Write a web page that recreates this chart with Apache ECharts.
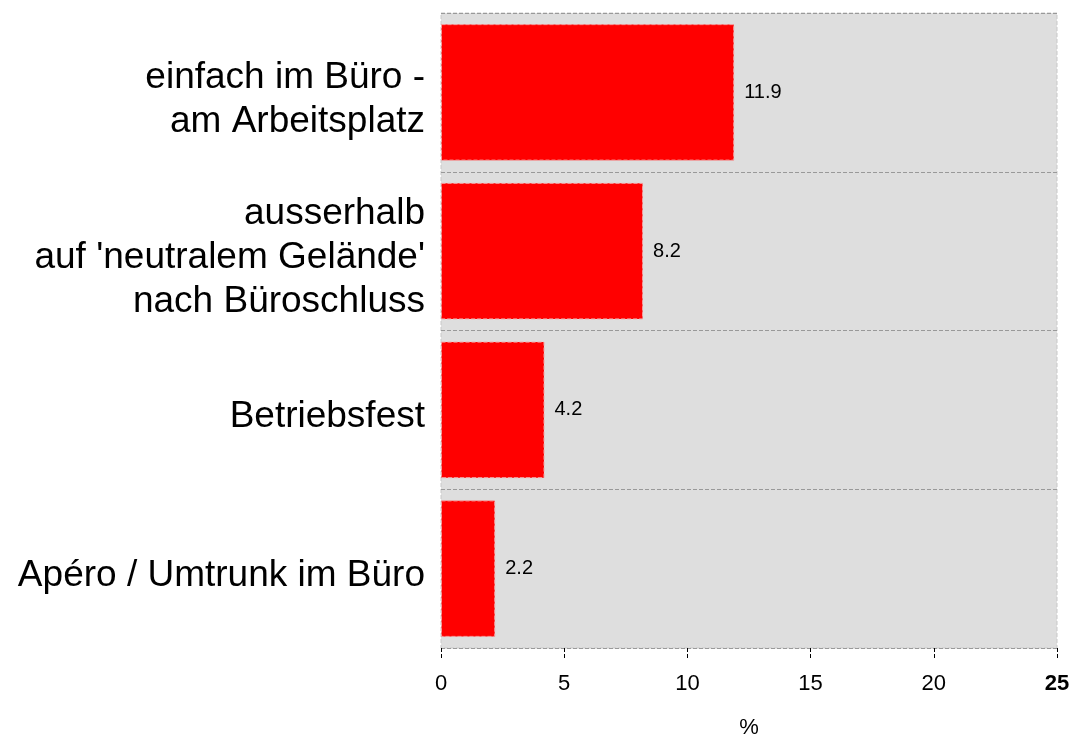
<!DOCTYPE html>
<html>
<head>
<meta charset="utf-8">
<script src="https://cdn.jsdelivr.net/npm/echarts@6/dist/echarts.min.js"></script>
<style>
  html, body { margin: 0; padding: 0; background: #fff; }
  #chart { width: 1072px; height: 738px; }
</style>
</head>
<body>
<div id="chart"></div>
<script>
var categories = [
    'einfach im Büro -\nam Arbeitsplatz',
    'ausserhalb\nauf \'neutralem Gelände\'\nnach Büroschluss',
    'Betriebsfest',
    'Apéro / Umtrunk im Büro'
];
var values = [11.9, 8.2, 4.2, 2.2];
var xTicks = [0, 5, 10, 15, 20, 25];

var chart = echarts.init(document.getElementById('chart'));

chart.setOption({
    animation: false,
    textStyle: { fontFamily: 'Liberation Sans, Arial, sans-serif' },
    grid: {
        left: 441, right: 15, top: 13, bottom: 90,
        outerBoundsMode: 'none',
        containLabel: false,
        show: true,
        backgroundColor: '#dedede',
        borderColor: '#c8c8c8',
        borderWidth: 1,
        borderType: 'dashed'
    },
    xAxis: {
        type: 'value',
        min: xTicks[0],
        max: xTicks[xTicks.length - 1],
        interval: 5,
        name: '%',
        nameLocation: 'middle',
        nameGap: 69,
        nameTextStyle: { fontSize: 22, color: '#000' },
        axisLine: { show: false },
        axisTick: { show: true, length: 11, lineStyle: { color: '#000', type: 'dashed', width: 1 } },
        splitLine: { show: false },
        axisLabel: {
            margin: 25,
            fontSize: 22,
            color: '#000',
            formatter: function (v) {
                return v === 25 ? '{b|' + v + '}' : String(v);
            },
            rich: { b: { fontSize: 22, fontWeight: 'bold', color: '#000' } }
        }
    },
    yAxis: {
        type: 'category',
        data: categories,
        inverse: true,
        axisLine: { show: false },
        axisTick: { show: false },
        splitLine: { show: true, lineStyle: { color: '#999', type: 'dashed', width: 1 } },
        axisLabel: {
            margin: 16,
            fontSize: 37,
            lineHeight: 44,
            color: '#000',
            align: 'right',
            // empty spacer line pushes the text block down a little
            formatter: function (v) {
                return '{sp|}\n' + v;
            },
            rich: { sp: { fontSize: 1, lineHeight: 14 } }
        }
    },
    series: [{
        type: 'bar',
        data: values,
        barCategoryGap: '14%',
        itemStyle: {
            color: '#ff0000',
            borderColor: '#f4a0a0',
            borderWidth: 1,
            borderType: 'dashed'
        },
        label: {
            show: true,
            position: 'right',
            distance: 10,
            fontSize: 20,
            color: '#000'
        }
    }]
});
</script>
</body>
</html>
